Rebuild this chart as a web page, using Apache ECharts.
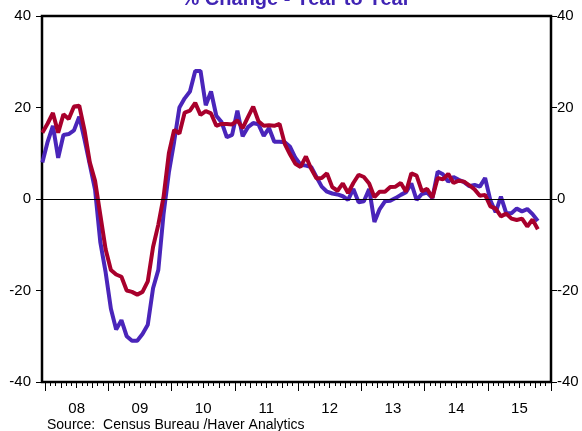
<!DOCTYPE html>
<html>
<head>
<meta charset="utf-8">
<script src="https://cdn.jsdelivr.net/npm/echarts@6/dist/echarts.min.js"></script>
<style>
  html, body { margin: 0; padding: 0; background: #fff; }
  #chart { width: 582px; height: 431px; }
</style>
</head>
<body>
<div id="chart"></div>
<script>
// monthly % change y/y, first value is Dec 2007, last is Oct 2015
const purpleLine = [
  8, 12.5, 16, 9, 14, 14.2, 15, 18, 13, 7.5, 2, -9.5, -16, -24, -28.5, -26.5,
  -30, -31, -31, -29.5, -27.5, -19.5, -15.5, -3.2, 5.8, 12.5, 20, 22, 23.5, 28, 28, 20.5,
  23.5, 18.2, 16.8, 13.5, 14, 19.3, 13.7, 15.7, 16.6, 16.3, 13.8, 15.5, 12.5, 12.5, 12.4, 11.4,
  9, 7.5, 7.3, 7, 4.8, 2.7, 1.6, 1.2, 1, 0.6, -0.2, 2.2, -0.7, -0.5, 2.2, -5,
  -2.2, -0.5, -0.4, 0.2, 0.9, 1.5, 3.4, -0.2, 1.1, 1.4, 0.2, 6, 5.4, 3.8, 4.8, 4.2,
  3.7, 2.8, 3.1, 2.7, 4.6, -0.3, -2.9, 0.5, -3.1, -3.1, -2.1, -2.7, -2.2, -3.3, -4.8
];
const redLine = [
  14.5, 16.5, 18.8, 14.5, 18.5, 17.5, 20.2, 20.4, 15, 8, 4, -3.5, -11, -15.5, -16.5, -17,
  -20, -20.3, -20.9, -20.3, -18, -10.5, -5.6, 0.5, 10, 15.1, 14.3, 18.9, 19.3, 21, 18.4, 19.2,
  18.7, 16, 16.4, 16.4, 16.3, 17.2, 15.5, 17.9, 20.2, 17, 16, 16.1, 16, 16.4, 12, 9.7,
  7.7, 7, 9.3, 6.6, 4.5, 4.6, 5.6, 2.6, 1.8, 3.4, 1.3, 3.5, 5.3, 4.8, 3.4, 0.4,
  1.6, 1.6, 2.6, 2.7, 3.5, 1.6, 5.6, 5.1, 1.7, 2.2, 0.3, 4.6, 4.3, 5.5, 3.5, 4,
  3.8, 3, 2.1, 0.7, 0.9, -1.6, -2.1, -3.8, -3.2, -4.3, -4.6, -4.3, -6, -4.5, -6.6
];
const yearLabels = ['08', '09', '10', '11', '12', '13', '14', '15'];
const yTicks = [-40, -20, 0, 20, 40];

const FONT = 'Liberation Sans, Arial, sans-serif';
const X_MIN = -0.57, X_MAX = 96;

// month index -> x position (middle of month), Jan 2008 = 0
const toPoints = arr => arr.map((v, i) => [i - 1 + 0.5, v]);

const monthTicks = [], quarterTicks = [], yearTicks = [], yearMids = [];
for (let m = 0; m <= 96; m++) {
  monthTicks.push(m);
  if (m % 3 === 0) quarterTicks.push(m);
  if (m % 12 === 0) yearTicks.push(m);
}
yearLabels.forEach((_, k) => yearMids.push(k * 12 + 6));

function tickAxis(values, len, withLabels) {
  return {
    type: 'value', min: X_MIN, max: X_MAX, position: 'bottom', offset: 1,
    axisLine: { show: false, onZero: false },
    splitLine: { show: false },
    axisTick: { show: true, customValues: values, length: len, lineStyle: { color: '#000', width: 1 } },
    axisLabel: withLabels ? {
      show: true, customValues: yearMids, margin: 18,
      fontFamily: FONT, fontSize: 15, color: '#000',
      formatter: v => yearLabels[Math.round((v - 6) / 12)] || ''
    } : { show: false }
  };
}

function yAxis(pos, margin) {
  return {
    type: 'value', position: pos, min: -40, max: 40, interval: 20,
    axisLine: { show: false, onZero: false },
    splitLine: { show: false },
    axisTick: { show: true, length: 6, lineStyle: { color: '#000', width: 1 } },
    axisLabel: { fontFamily: FONT, fontSize: 15, color: '#000', margin: margin }
  };
}

const chart = echarts.init(document.getElementById('chart'));
chart.setOption({
  animation: false,
  grid: { left: 42, right: 31, top: 16, bottom: 49, show: true, borderColor: '#000', borderWidth: 2.5, backgroundColor: 'transparent' },
  graphic: [
    { type: 'text', x: 296, y: -1, style: { text: '% Change - Year to Year', font: 'bold 20px ' + FONT, fill: '#4024b4', textAlign: 'center', textVerticalAlign: 'middle' } },
    { type: 'text', x: 47, y: 418, style: { text: 'Source:  Census Bureau /Haver Analytics', font: '14px ' + FONT, fill: '#000', textVerticalAlign: 'top' } }
  ],
  xAxis: [
    tickAxis(monthTicks, 3, false),
    tickAxis(quarterTicks, 5, false),
    tickAxis(yearTicks, 8, true)
  ],
  yAxis: [yAxis('left', 11), yAxis('right', 6)],
  series: [
    {
      type: 'line', data: toPoints(purpleLine), showSymbol: false,
      lineStyle: { color: '#4a25ba', width: 4 }, itemStyle: { color: '#4a25ba' },
      markLine: {
        silent: true, symbol: 'none', label: { show: false },
        lineStyle: { color: '#000', width: 1, type: 'solid' },
        data: [{ yAxis: yTicks[2] }]
      }
    },
    {
      type: 'line', data: toPoints(redLine), showSymbol: false,
      lineStyle: { color: '#a8002c', width: 4 }, itemStyle: { color: '#a8002c' }
    }
  ]
});
</script>
</body>
</html>
